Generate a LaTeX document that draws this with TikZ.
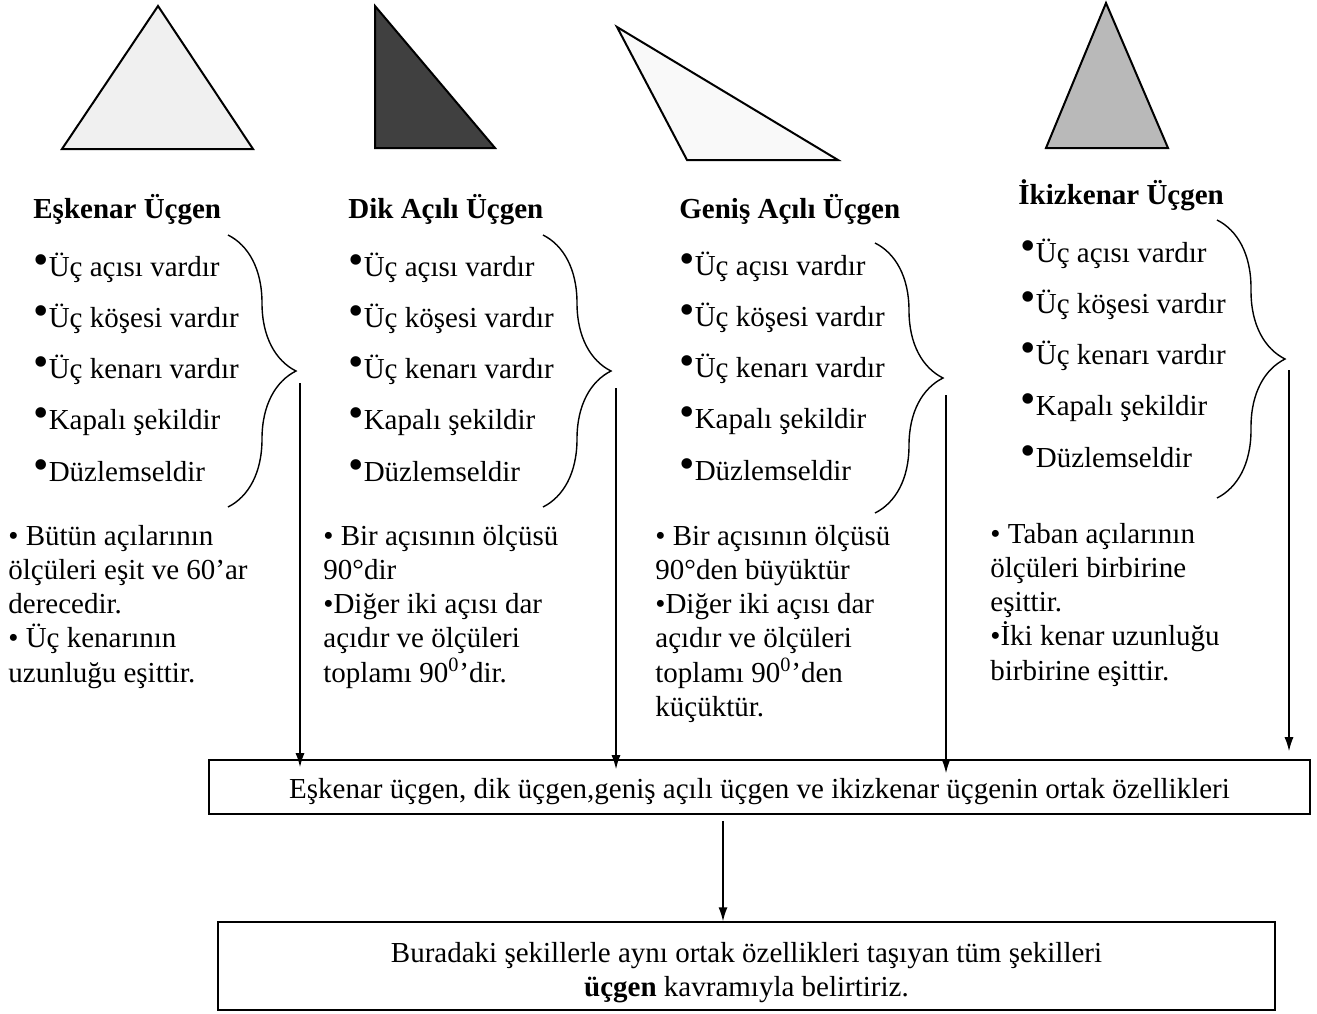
\documentclass[tikz,border=0pt]{standalone}
\usepackage{fontspec}
\setmainfont{Liberation Serif}
\usetikzlibrary{arrows.meta,decorations.pathreplacing}

\newcommand{\txt}{\fontsize{14.5pt}{17pt}\selectfont}
\newcommand{\bdot}{\raisebox{1pt}{\fontsize{22pt}{22pt}\selectfont\textbullet}}

\tikzset{
  tri/.style={draw=black,line width=1pt},
  title/.style={anchor=base west,inner sep=0pt,font=\txt\bfseries},
  item/.style={anchor=base west,inner sep=0pt,font=\txt},
  note/.style={anchor=base west,inner sep=0pt,font=\txt},
  bracket/.style={decorate,decoration={brace,amplitude=34pt},line width=0.7pt},
  box/.style={draw=black,line width=0.8pt,font=\txt,align=center},
  arr/.style={-{Latex[length=7pt,width=4.5pt]},line width=0.7pt}
}

\begin{document}
\begin{tikzpicture}[x=0.5pt,y=-0.5pt]
\useasboundingbox (0,0) rectangle (1317,1013);

% triangles
\draw[tri,fill=gray!12] (62,149) -- (158,6) -- (253,149) -- cycle;
\draw[tri,fill=black!75] (375,6) -- (375,148) -- (495,148) -- cycle;
\draw[tri,fill=gray!5] (617,27) -- (687,160) -- (838,160) -- cycle;
\draw[tri,fill=gray!55] (1106,3) -- (1046,148) -- (1168,148) -- cycle;

% titles
\node[title] (t1) at (33,218) {Eşkenar Üçgen};
\node[title] (t2) at (348,218) {Dik Açılı Üçgen};
\node[title] (t3) at (679,218) {Geniş Açılı Üçgen};
\node[title] (t4) at (1018,204) {İkizkenar Üçgen};

% common properties
\foreach \c/\x/\y in {1/33/276,2/348/276,3/679/275,4/1020/262}
  \foreach \t [count=\k from 0] in {Üç açısı vardır,Üç köşesi vardır,Üç kenarı vardır,Kapalı şekildir,Düzlemseldir}
    \node[item] (i\c-\k) at (\x,\y+51.3*\k) {\bdot\t};

\foreach \x/\a/\b in {228/235/507,543/235/507,875/243/513,1217/220/498}
  \draw[bracket] (\x,\a) -- (\x,\b);

% own properties
\foreach \t [count=\k from 0] in {• Bütün açılarının,ölçüleri eşit ve 60’ar,derecedir.,• Üç kenarının,uzunluğu eşittir.}
  \node[note] (n1-\k) at (8,545+34.3*\k) {\t};
\foreach \t [count=\k from 0] in {• Bir açısının ölçüsü,90°dir,•Diğer iki açısı dar,açıdır ve ölçüleri,toplamı 90\textsuperscript{0}’dir.}
  \node[note] (n2-\k) at (323,545+34.3*\k) {\t};
\foreach \t [count=\k from 0] in {• Bir açısının ölçüsü,90°den büyüktür,•Diğer iki açısı dar,açıdır ve ölçüleri,toplamı 90\textsuperscript{0}’den,küçüktür.}
  \node[note] (n3-\k) at (655,545+34.3*\k) {\t};
\foreach \t [count=\k from 0] in {• Taban açılarının,ölçüleri birbirine,eşittir.,•İki kenar uzunluğu,birbirine eşittir.}
  \node[note] (n4-\k) at (990,543+34.3*\k) {\t};

% boxes
\node[box,minimum width=550.5pt,minimum height=27pt,text height=15pt] (ortak) at (759.5,787)
  {Eşkenar üçgen, dik üçgen,geniş açılı üçgen ve ikizkenar üçgenin ortak özellikleri};
\node[box,minimum width=528.5pt,minimum height=43pt,text height=34pt] (kavram) at (746.5,966)
  {Buradaki şekillerle aynı ortak özellikleri taşıyan tüm şekilleri\\\textbf{üçgen} kavramıyla belirtiriz.};

% arrows
\coordinate (a1) at (300,383);
\coordinate (a2) at (616,388);
\coordinate (a3) at (946,395);
\coordinate (a4) at (1289,370);
\coordinate (m) at (723,0);
\foreach \a/\s in {1/-4pt,2/-5pt,3/-7pt,4/4pt}
  \draw[arr,shorten >=\s] (a\a) -- (a\a |- ortak.north);
\draw[arr,shorten <=3pt] (ortak.south -| m) -- (kavram.north -| m);
\end{tikzpicture}
\end{document}
